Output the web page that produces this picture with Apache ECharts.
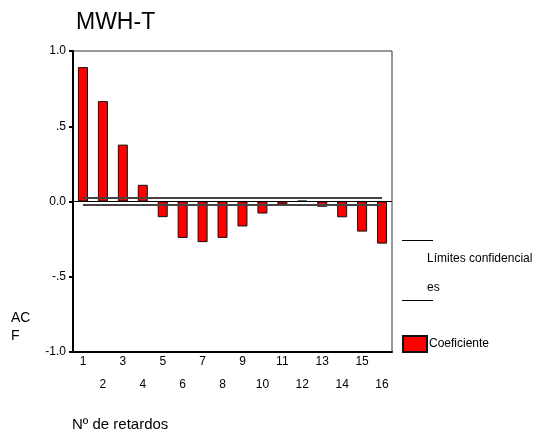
<!DOCTYPE html>
<html>
<head>
<meta charset="utf-8">
<script src="https://cdn.jsdelivr.net/npm/echarts@6/dist/echarts.min.js"></script>
<style>
  html, body { margin: 0; padding: 0; background: #fff; }
  #chart { width: 541px; height: 435px; }
</style>
</head>
<body>
<div id="chart"></div>
<script>
// lags and autocorrelation values
const lags = ['1', '2', '3', '4', '5', '6', '7', '8', '9', '10', '11', '12', '13', '14', '15', '16'];
const acf = [0.893, 0.667, 0.378, 0.111, -0.104, -0.242, -0.27, -0.242, -0.166, -0.08, -0.02, 0.005, -0.035, -0.105, -0.2, -0.28];
const upperLimit = [0.023, 0.023, 0.023, 0.023, 0.023, 0.023, 0.023, 0.023, 0.023, 0.023, 0.023, 0.023, 0.023, 0.023, 0.023, 0.023];
const lowerLimit = [-0.023, -0.023, -0.023, -0.023, -0.023, -0.023, -0.023, -0.023, -0.023, -0.023, -0.023, -0.023, -0.023, -0.023, -0.023, -0.023];
const yTickLabels = { '-1': '-1.0', '-0.5': '-.5', '0': '0.0', '0.5': '.5', '1': '1.0' };

const font = 'Liberation Sans, Arial, sans-serif';
let chart = echarts.init(document.getElementById('chart'), null, { renderer: 'canvas' });

let option = {
    backgroundColor: '#fff',
    animation: false,
    textStyle: { fontFamily: font },
    title: {
        text: 'MWH-T',
        left: 71,
        top: 6,
        textStyle: { fontFamily: font, fontSize: 23, fontWeight: 'normal', color: '#000' }
    },
    grid: {
        left: 73,
        right: 149,
        top: 51,
        bottom: 83,
        show: true,
        borderColor: '#333',
        borderWidth: 1
    },
    legend: {
        data: [{ name: 'Coeficiente', icon: 'rect' }],
        left: 402,
        top: 335,
        padding: 0,
        itemWidth: 24,
        itemHeight: 16,
        itemGap: 2,
        textStyle: { fontFamily: font, fontSize: 12, color: '#000', padding: [0, 0, 0, -3] }
    },
    xAxis: {
        type: 'category',
        data: lags,
        boundaryGap: true,
        axisLine: { onZero: false, lineStyle: { color: '#000', width: 2 } },
        axisTick: { alignWithLabel: true, length: 3, lineStyle: { color: '#000', width: 2 } },
        axisLabel: {
            interval: 0,
            margin: 3,
            color: '#000',
            fontFamily: font,
            fontSize: 12,
            formatter: function (v) {
                return (parseInt(v) % 2 === 1) ? '{o|' + v + '}' : '{s| }\n{o|' + v + '}';
            },
            rich: {
                o: { fontFamily: font, fontSize: 12, lineHeight: 14, color: '#000' },
                s: { fontSize: 12, lineHeight: 23 }
            }
        },
        splitLine: { show: false }
    },
    yAxis: {
        type: 'value',
        min: -1,
        max: 1,
        interval: 0.5,
        axisLine: { show: true, lineStyle: { color: '#000', width: 2 } },
        axisTick: { show: true, length: 4, lineStyle: { color: '#000', width: 2 } },
        axisLabel: {
            margin: 7,
            color: '#000',
            fontFamily: font,
            fontSize: 12,
            formatter: function (v) { return yTickLabels[String(v)]; }
        },
        splitLine: { show: false }
    },
    series: [
        {
            name: 'Coeficiente',
            type: 'bar',
            data: acf,
            barWidth: 10,
            itemStyle: { color: '#ff0000', borderColor: '#111', borderWidth: 1 },
            markLine: {
                silent: true,
                symbol: 'none',
                label: { show: false },
                lineStyle: { color: '#000', width: 1, type: 'solid' },
                data: [{ yAxis: 0 }]
            },
            z: 2
        },
        {
            name: 'Límites confidenciales (sup)',
            type: 'line',
            data: upperLimit,
            symbol: 'none',
            lineStyle: { color: '#444', width: 2 },
            z: 3
        },
        {
            name: 'Límites confidenciales (inf)',
            type: 'line',
            data: lowerLimit,
            symbol: 'none',
            lineStyle: { color: '#444', width: 2 },
            z: 3
        }
    ],
    graphic: [
        { type: 'line', shape: { x1: 402, y1: 240.5, x2: 433, y2: 240.5 }, style: { stroke: '#000', lineWidth: 1 } },
        { type: 'text', left: 427, top: 253, style: { text: 'Límites confidencial', font: '12px ' + font, fill: '#000' } },
        { type: 'text', left: 427, top: 282, style: { text: 'es', font: '12px ' + font, fill: '#000' } },
        { type: 'line', shape: { x1: 402, y1: 300.5, x2: 433, y2: 300.5 }, style: { stroke: '#000', lineWidth: 1 } },
        { type: 'text', left: 11, top: 309, style: { text: 'AC\nF', font: '14px ' + font, lineHeight: 18, fill: '#000' } },
        { type: 'text', left: 72, top: 417, style: { text: 'Nº de retardos', font: '15px ' + font, fill: '#000' } }
    ]
};
chart.setOption(option);
</script>
</body>
</html>
